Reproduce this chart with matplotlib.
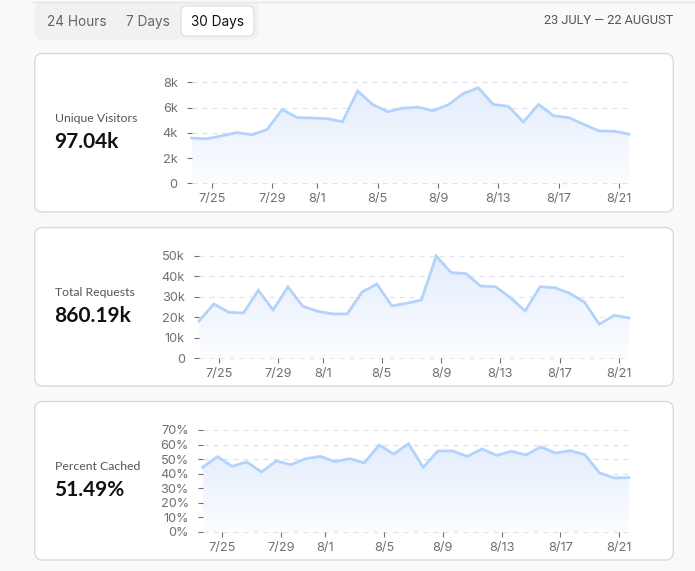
import numpy as np
import pandas as pd
import matplotlib
matplotlib.use('Agg')
import matplotlib.pyplot as plt
import matplotlib.dates as mdates
from matplotlib.patches import FancyBboxPatch
from matplotlib.colors import LinearSegmentedColormap
from matplotlib.ticker import FuncFormatter

# ----------------
# DATA
# ----------------

# one point per day, 23 July -> 21 August (stamped 16:00 local)
dates = pd.date_range('2023-07-23 16:00', periods=30, freq='D')

unique_visitors = [3580, 3520, 3760, 4020, 3840, 4260, 5850, 5200, 5170, 5120,
                   4880, 7310, 6240, 5670, 5950, 6030, 5740, 6210, 7100, 7570,
                   6240, 6100, 4860, 6240, 5350, 5200, 4670, 4150, 4130, 3890]

total_requests = [18200, 26500, 22500, 22100, 33200, 23600, 34900, 25400, 23000, 21700,
                  21700, 32400, 36300, 25600, 26900, 28500, 50000, 41900, 41400, 35300,
                  35000, 29600, 23100, 35000, 34500, 31800, 27400, 16600, 21000, 19700]

percent_cached = [44.4, 51.7, 45.1, 48.1, 41.2, 48.7, 46.2, 50.3, 51.9, 48.3,
                  50.3, 47.4, 59.7, 53.5, 60.6, 44.4, 55.6, 55.6, 51.9, 57.0,
                  52.6, 55.4, 52.9, 58.4, 54.2, 55.8, 53.1, 40.5, 37.1, 37.3]

tick_dates = ['2023-07-25', '2023-07-29', '2023-08-01', '2023-08-05',
              '2023-08-09', '2023-08-13', '2023-08-17', '2023-08-21']
tick_labels = ['7/25', '7/29', '8/1', '8/5', '8/9', '8/13', '8/17', '8/21']

card_titles = ['Unique Visitors', 'Total Requests', 'Percent Cached']
card_totals = ['97.04k', '860.19k', '51.49%']

tabs = ['24 Hours', '7 Days', '30 Days']
date_range_label = '23 JULY \u2014 22 AUGUST'

# ----------------
# STYLE
# ----------------

W, H = 695, 571
BG = '#f9f9f9'
LINE = '#b4d3fc'
GRID = '#e0e3ea'
TICK = '#6e7079'
FONT = ['Inter', 'DejaVu Sans']

plt.rcParams['font.family'] = FONT

fig = plt.figure(figsize=(W / 100, H / 100), dpi=100)
fig.patch.set_facecolor(BG)

# pixel-space canvas for cards, tabs and labels
bg = fig.add_axes([0, 0, 1, 1])
bg.set_xlim(0, W)
bg.set_ylim(H, 0)
bg.axis('off')


def px_axes(left, top, right, bottom):
    return fig.add_axes([left / W, 1 - bottom / H, (right - left) / W, (bottom - top) / H])


def rbox(x0, y0, x1, y1, r, fc, ec, lw=1.0):
    bg.add_patch(FancyBboxPatch((x0, y0), x1 - x0, y1 - y0,
                                boxstyle=f'round,pad=0,rounding_size={r}',
                                fc=fc, ec=ec, lw=lw))


# faint top border
bg.plot([33, W], [2, 2], color='#e6e6e6', lw=1)

# tab group
rbox(35, 3, 258, 39, 8, '#f1f1f1', '#f1f1f1')
rbox(181, 6, 254, 36, 6, 'white', '#dcdcdc', 0.8)
tab_x = [77, 148, 217.5]
tab_colors = ['#666666', '#666666', '#111111']
for label, x, c in zip(tabs, tab_x, tab_colors):
    bg.text(x, 22, label, ha='center', va='center', fontsize=9.8, color=c)

bg.text(673, 21, date_range_label, ha='right', va='center', fontsize=9.2,
        color='#555555', family=['Roboto', 'DejaVu Sans'])

# cards: (top, bottom)
cards = [(53.5, 212), (227.5, 386), (401.5, 560)]
for (top, bottom), title, total in zip(cards, card_titles, card_totals):
    rbox(34.7, top, 673.3, bottom, 8, 'white', '#dadada', 1.0)
    mid = (top + bottom) / 2
    bg.text(55, mid - 14, title, ha='left', va='center', fontsize=8.8,
            color='#555555', family=['Lato', 'DejaVu Sans'])
    bg.text(54, mid + 9, total, ha='left', va='center', fontsize=15,
            color='#111111', fontweight='bold', family=['Lato', 'DejaVu Sans'])

# chart areas: (left, top-of-ymax, right, zero line), ymax, step, formatter
k_fmt = FuncFormatter(lambda v, p: '0' if v == 0 else f'{int(v / 1000)}k')
pct_fmt = FuncFormatter(lambda v, p: f'{int(v)}%')

charts = [
    ((191.7, 82.3, 629, 183.3), unique_visitors, 8000, 2000, k_fmt),
    ((199.0, 256.0, 629, 358.3), total_requests, 50000, 10000, k_fmt),
    ((202.7, 430.0, 629, 532.0), percent_cached, 70, 10, pct_fmt),
]

xnum = mdates.date2num(dates)
tick_pos = mdates.date2num(pd.to_datetime(tick_dates))
cmap = LinearSegmentedColormap.from_list('fade', ['#fcfdff', '#e3edfd'])

for box, values, ymax, step, fmt in charts:
    ax = px_axes(*box)
    ax.set_facecolor('none')
    ax.set_xlim(xnum[0], xnum[-1])
    ax.set_ylim(0, ymax)
    for s in ax.spines.values():
        s.set_visible(False)

    yt = np.arange(0, ymax + step / 2, step)
    ax.set_yticks(yt)
    ax.yaxis.set_major_formatter(fmt)
    for y in yt:
        ax.axhline(y, color=GRID, lw=0.9, ls=(0, (4, 4)), zorder=0, clip_on=False)

    ax.set_xticks(tick_pos)
    ax.set_xticklabels(tick_labels)
    ax.tick_params(axis='both', colors=TICK, labelcolor=TICK, labelsize=9.2,
                   length=3.6, width=0.8, direction='out')
    ax.tick_params(axis='y', pad=6.5)
    ax.tick_params(axis='x', pad=3.5)

    # gradient area under the line
    vmax = max(values)
    poly = ax.fill_between(xnum, values, 0, facecolor='none', edgecolor='none')
    grad = np.linspace(0, 1, 256).reshape(-1, 1)
    im = ax.imshow(grad, cmap=cmap, origin='lower', aspect='auto',
                   extent=[xnum[0], xnum[-1], 0, vmax], zorder=1)
    im.set_clip_path(poly.get_paths()[0], transform=ax.transData)
    ax.set_xlim(xnum[0], xnum[-1])
    ax.set_ylim(0, ymax)

    ax.plot(xnum, values, color=LINE, lw=2, zorder=2, clip_on=False,
            solid_joinstyle='miter')

fig.savefig('out.png', dpi=100, facecolor=BG)
